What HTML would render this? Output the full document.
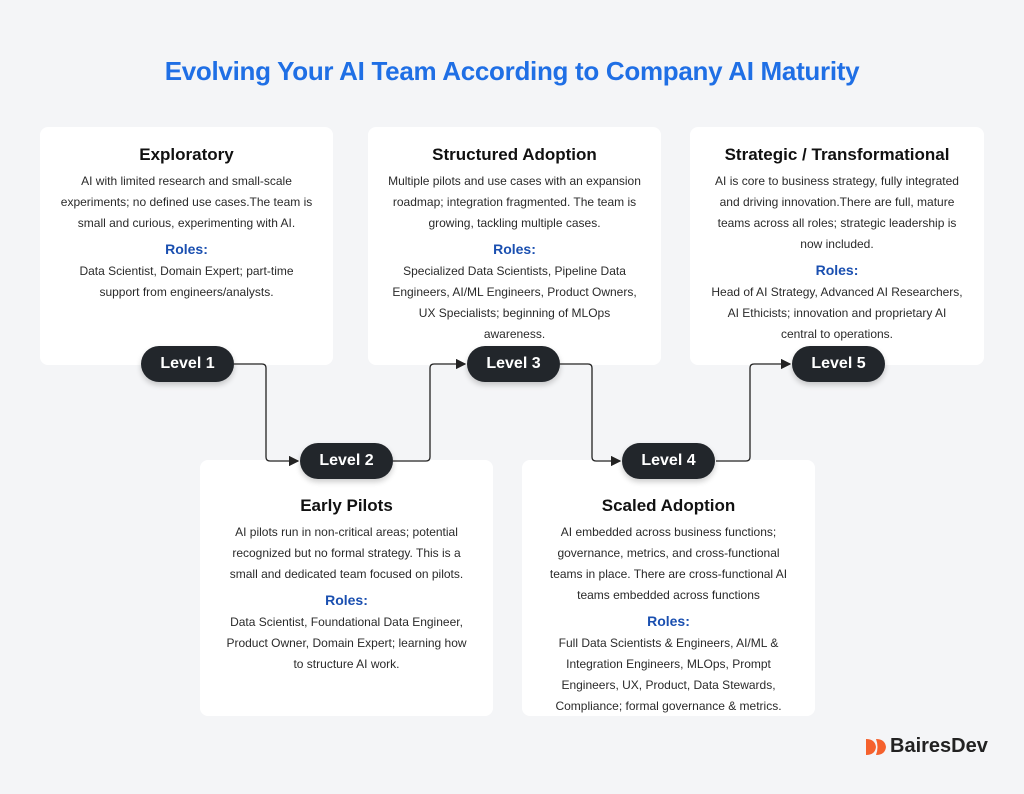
<!DOCTYPE html>
<html><head><meta charset="utf-8"><style>
body{margin:0;width:1024px;height:794px;background:#f4f5f7;font-family:"Liberation Sans",sans-serif;position:relative;overflow:hidden;color:#2a2a2a}
.t{position:absolute;top:56px;left:0;width:1024px;text-align:center;font-size:26px;font-weight:bold;color:#1f6fe5;letter-spacing:-0.3px}
.c{position:absolute;background:#fff;border-radius:8px;text-align:center;box-sizing:border-box;padding:0 20px;z-index:1}
.c h3{margin:18px 0 6px;font-size:17px;color:#111}
.c p{margin:0;font-size:12px;line-height:21px}
.c h4{margin:7px 0 4px;font-size:14px;color:#1a4fb0}
.p{position:absolute;width:93px;height:36px;border-radius:18px;background:#22262b;color:#fff;font-weight:bold;font-size:16px;line-height:36px;text-align:center;box-shadow:0 3px 6px rgba(0,0,0,.2);z-index:3}
.logo{position:absolute;left:866px;top:735px;font-size:20px;font-weight:bold;color:#222}
svg.l{z-index:2}
</style></head><body>
<div class="t">Evolving Your AI Team According to Company AI Maturity</div>
<svg class="l" width="1024" height="794" style="position:absolute;left:0;top:0">
<defs><marker id="a" markerWidth="8" markerHeight="8" refX="7" refY="4" orient="auto"><path d="M0,0 L8,4 L0,8z" fill="#222"/></marker></defs>
<g fill="none" stroke="#222" stroke-width="1.3">
<path d="M234 364 H262 Q266 364 266 368 V457 Q266 461 270 461 H298" marker-end="url(#a)"/>
<path d="M393 461 H426 Q430 461 430 457 V368 Q430 364 434 364 H465" marker-end="url(#a)"/>
<path d="M560 364 H588 Q592 364 592 368 V457 Q592 461 596 461 H620" marker-end="url(#a)"/>
<path d="M716 461 H746 Q750 461 750 457 V368 Q750 364 754 364 H790" marker-end="url(#a)"/>
</g></svg>
<div class="c" style="left:40px;top:127px;width:293px;height:238px"><h3>Exploratory</h3><p>AI with limited research and small-scale experiments; no defined use cases.The team is small and curious, experimenting with AI.</p><h4>Roles:</h4><p>Data Scientist, Domain Expert; part-time support from engineers/analysts.</p></div>
<div class="c" style="left:368px;top:127px;width:293px;height:238px"><h3>Structured Adoption</h3><p>Multiple pilots and use cases with an expansion roadmap; integration fragmented. The team is growing, tackling multiple cases.</p><h4>Roles:</h4><p>Specialized Data Scientists, Pipeline Data Engineers, AI/ML Engineers, Product Owners, UX Specialists; beginning of MLOps awareness.</p></div>
<div class="c" style="left:690px;top:127px;width:294px;height:238px"><h3>Strategic / Transformational</h3><p>AI is core to business strategy, fully integrated and driving innovation.There are full, mature teams across all roles; strategic leadership is now included.</p><h4>Roles:</h4><p>Head of AI Strategy, Advanced AI Researchers, AI Ethicists; innovation and proprietary AI central to operations.</p></div>
<div class="c" style="left:200px;top:460px;width:293px;height:256px;padding-top:18px"><h3>Early Pilots</h3><p>AI pilots run in non-critical areas; potential recognized but no formal strategy. This is a small and dedicated team focused on pilots.</p><h4>Roles:</h4><p>Data Scientist, Foundational Data Engineer, Product Owner, Domain Expert; learning how to structure AI work.</p></div>
<div class="c" style="left:522px;top:460px;width:293px;height:256px;padding-top:18px"><h3>Scaled Adoption</h3><p>AI embedded across business functions; governance, metrics, and cross-functional teams in place. There are cross-functional AI teams embedded across functions</p><h4>Roles:</h4><p>Full Data Scientists &amp; Engineers, AI/ML &amp; Integration Engineers, MLOps, Prompt Engineers, UX, Product, Data Stewards, Compliance; formal governance &amp; metrics.</p></div>
<div class="p" style="left:141px;top:346px">Level 1</div>
<div class="p" style="left:300px;top:443px">Level 2</div>
<div class="p" style="left:467px;top:346px">Level 3</div>
<div class="p" style="left:622px;top:443px">Level 4</div>
<div class="p" style="left:792px;top:346px">Level 5</div>
<svg style="position:absolute;left:866px;top:737px" width="22" height="20"><path d="M0 2 Q9 2 10 10 Q9 18 0 18 Z M10 2 Q19 2 20 10 Q19 18 10 18 Q13 10 10 2Z" fill="#f5612d"/></svg>
<div class="logo" style="left:890px">BairesDev</div>
</body></html>
